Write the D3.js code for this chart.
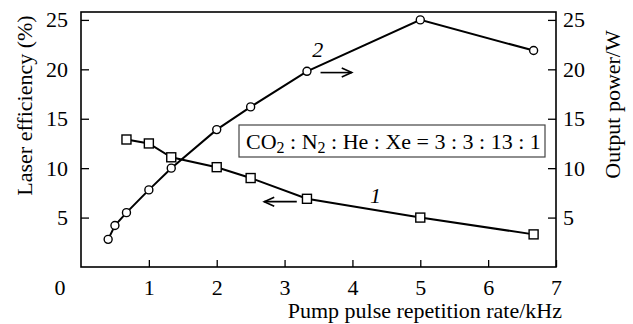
<!DOCTYPE html>
<html>
<head>
<meta charset="utf-8">
<script src="https://cdn.jsdelivr.net/npm/d3@7"></script>
<style>
  body { margin: 0; background: #fff; }
  svg { display: block; }
  svg text { font-family: 'Liberation Serif', 'Times New Roman', serif; }
</style>
</head>
<body>
<div id="chart"></div>
<script>
// curve 1: laser efficiency (%), left axis, squares
const rates1 = [0.67, 1, 1.33, 2, 2.5, 3.33, 5, 6.67];
const efficiency = [12.9, 12.5, 11.1, 10.1, 9.0, 6.9, 5.0, 3.3];

// curve 2: output power (W), right axis, circles
const rates2 = [0.4, 0.5, 0.67, 1, 1.33, 2, 2.5, 3.33, 5, 6.67];
const power = [2.8, 4.2, 5.5, 7.8, 10.0, 13.9, 16.2, 19.8, 25.0, 21.9];

const xTicks = [1, 2, 3, 4, 5, 6, 7];
const yTicks = [5, 10, 15, 20, 25];

const width = 633;
const height = 324;
const margin = { top: 12, right: 77, bottom: 57, left: 81 };
const graphWidth = width - margin.left - margin.right;
const graphHeight = height - margin.top - margin.bottom;

const serif = "'Liberation Serif', 'Times New Roman', serif";

const svg = d3
  .select('#chart')
  .append('svg')
  .attr('width', width)
  .attr('height', height);

const xScale = d3.scaleLinear().domain([0, 7]).range([margin.left, margin.left + graphWidth]);
const yScale = d3.scaleLinear().domain([0, 25.8]).range([margin.top + graphHeight, margin.top]);

const fontSize = 22;

// frame
svg
  .append('rect')
  .attr('x', margin.left)
  .attr('y', margin.top)
  .attr('width', graphWidth)
  .attr('height', graphHeight)
  .attr('fill', 'none')
  .attr('stroke', '#000')
  .attr('stroke-width', 1.6);

const styleAxis = (g) => {
  g.attr('font-family', serif).attr('font-size', fontSize);
  g.select('.domain').remove();
  g.selectAll('line').attr('stroke', '#000').attr('stroke-width', 1.3);
  g.selectAll('text').attr('fill', '#000').style('font-family', serif);
};

svg
  .append('g')
  .attr('transform', `translate(0,${margin.top + graphHeight})`)
  .call(d3.axisBottom(xScale).tickValues(xTicks).tickFormat(d3.format('d')).tickSize(-7).tickPadding(12))
  .call(styleAxis);

svg
  .append('g')
  .attr('transform', `translate(${margin.left},0)`)
  .call(d3.axisLeft(yScale).tickValues(yTicks).tickFormat(d3.format('d')).tickSize(-8).tickPadding(13))
  .call(styleAxis);

svg
  .append('g')
  .attr('transform', `translate(${margin.left + graphWidth},0)`)
  .call(d3.axisRight(yScale).tickValues(yTicks).tickFormat(d3.format('d')).tickSize(-8).tickPadding(7))
  .call(styleAxis);

// shared origin label
svg
  .append('text')
  .attr('x', xScale(0) - 21)
  .attr('y', yScale(0) + 28)
  .attr('text-anchor', 'middle')
  .attr('font-size', fontSize)
  .text('0');

// axis titles
svg
  .append('text')
  .attr('transform', `translate(32,${(margin.top + yScale(0)) / 2 - 34}) rotate(-90)`)
  .attr('text-anchor', 'middle')
  .attr('font-size', fontSize)
  .text('Laser efficiency (%)');

svg
  .append('text')
  .attr('transform', `translate(620,${(margin.top + yScale(0)) / 2 - 35}) rotate(-90)`)
  .attr('text-anchor', 'middle')
  .attr('font-size', fontSize)
  .text('Output power/W');

svg
  .append('text')
  .attr('x', xScale(7) + 6)
  .attr('y', 318)
  .attr('text-anchor', 'end')
  .attr('font-size', fontSize)
  .text('Pump pulse repetition rate/kHz');

// lines
const effData = rates1.map((r, i) => ({ x: r, y: efficiency[i] }));
const powData = rates2.map((r, i) => ({ x: r, y: power[i] }));

const line = d3
  .line()
  .x((d) => xScale(d.x))
  .y((d) => yScale(d.y));

svg.append('path').datum(effData).attr('d', line).attr('fill', 'none').attr('stroke', '#000').attr('stroke-width', 2);
svg.append('path').datum(powData).attr('d', line).attr('fill', 'none').attr('stroke', '#000').attr('stroke-width', 2);

const sq = 9;
svg
  .selectAll('.sq')
  .data(effData)
  .enter()
  .append('rect')
  .attr('x', (d) => xScale(d.x) - sq / 2)
  .attr('y', (d) => yScale(d.y) - sq / 2)
  .attr('width', sq)
  .attr('height', sq)
  .attr('fill', '#fff')
  .attr('stroke', '#000')
  .attr('stroke-width', 1.4);

svg
  .selectAll('.circ')
  .data(powData)
  .enter()
  .append('circle')
  .attr('cx', (d) => xScale(d.x))
  .attr('cy', (d) => yScale(d.y))
  .attr('r', 4)
  .attr('fill', '#fff')
  .attr('stroke', '#000')
  .attr('stroke-width', 1.4);

// arrows pointing to the axis each curve belongs to
const arrow = (x1, x2, yv) => {
  const px1 = xScale(x1), px2 = xScale(x2), py = yScale(yv);
  const dir = Math.sign(px2 - px1);
  svg.append('line')
    .attr('x1', px1).attr('x2', px2).attr('y1', py).attr('y2', py)
    .attr('stroke', '#000').attr('stroke-width', 1.6);
  svg.append('path')
    .attr('d', `M${px2 - dir * 10},${py - 4.5} L${px2},${py} L${px2 - dir * 10},${py + 4.5}`)
    .attr('fill', 'none').attr('stroke', '#000').attr('stroke-width', 1.6);
};
arrow(3.18, 2.7, 6.61);
arrow(3.53, 3.99, 19.67);

svg.append('text')
  .attr('x', xScale(4.34)).attr('y', yScale(6.45))
  .attr('text-anchor', 'middle').attr('font-style', 'italic').attr('font-size', fontSize)
  .text('1');
svg.append('text')
  .attr('x', xScale(3.49)).attr('y', yScale(21.2))
  .attr('text-anchor', 'middle').attr('font-style', 'italic').attr('font-size', fontSize)
  .text('2');

// gas mixture box
svg.append('rect')
  .attr('x', 239).attr('y', 125).attr('width', 306).attr('height', 32)
  .attr('fill', '#fff').attr('stroke', '#444').attr('stroke-width', 1.2);

const mix = svg.append('text').attr('x', 246).attr('y', 148.5).attr('font-size', fontSize);
mix.append('tspan').text('CO');
mix.append('tspan').attr('dy', 4).attr('font-size', 16).text('2');
mix.append('tspan').attr('dy', -4).text(' : N');
mix.append('tspan').attr('dy', 4).attr('font-size', 16).text('2');
mix.append('tspan').attr('dy', -4).text(' : He : Xe = 3 : 3 : 13 : 1');
</script>
</body>
</html>
